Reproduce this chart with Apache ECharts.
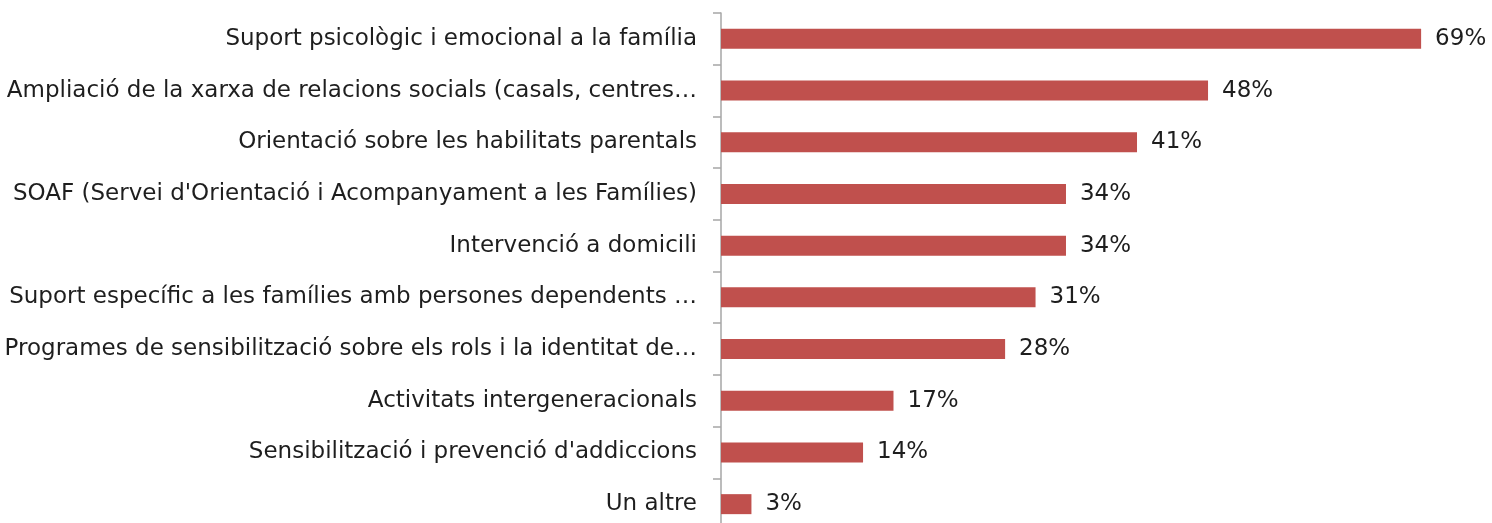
<!DOCTYPE html>
<html>
<head>
<meta charset="utf-8">
<script src="https://cdn.jsdelivr.net/npm/echarts@6/dist/echarts.min.js"></script>
<style>
  html, body { margin: 0; padding: 0; background: #fff; }
  #chart { width: 1492px; height: 523px; }
</style>
</head>
<body>
<div id="chart"></div>
<script>
// categories top to bottom, as shown
const categories = [
    'Suport psicològic i emocional a la família',
    'Ampliació de la xarxa de relacions socials (casals, centres…',
    'Orientació sobre les habilitats parentals',
    "SOAF (Servei d'Orientació i Acompanyament a les Famílies)",
    'Intervenció a domicili',
    'Suport específic a les famílies amb persones dependents …',
    'Programes de sensibilització sobre els rols i la identitat de…',
    'Activitats intergeneracionals',
    "Sensibilització i prevenció d'addiccions",
    'Un altre'
];
const values = [69, 48, 41, 34, 34, 31, 28, 17, 14, 3];

const chart = echarts.init(document.getElementById('chart'));
const option = {
    animation: false,
    grid: {
        left: 721,
        right: 10,
        top: 13,
        height: 517,
        outerBoundsMode: 'none'
    },
    xAxis: {
        type: 'value',
        min: 0,
        max: 75,
        show: false
    },
    yAxis: {
        type: 'category',
        inverse: true,
        data: categories,
        axisLine: { show: true, lineStyle: { color: '#a6a6a6', width: 1.5 } },
        axisTick: { show: true, length: 8, lineStyle: { color: '#a6a6a6', width: 1.5 } },
        axisLabel: {
            margin: 24,
            color: '#1e1e1e',
            fontFamily: 'DejaVu Sans',
            fontSize: 23
        }
    },
    series: [
        {
            type: 'bar',
            data: values,
            barWidth: 20,
            itemStyle: { color: '#c0504d' },
            label: {
                show: true,
                position: 'right',
                distance: 14,
                formatter: '{c}%',
                color: '#1e1e1e',
                fontFamily: 'DejaVu Sans',
                fontSize: 23
            }
        }
    ]
};
chart.setOption(option);
</script>
</body>
</html>
